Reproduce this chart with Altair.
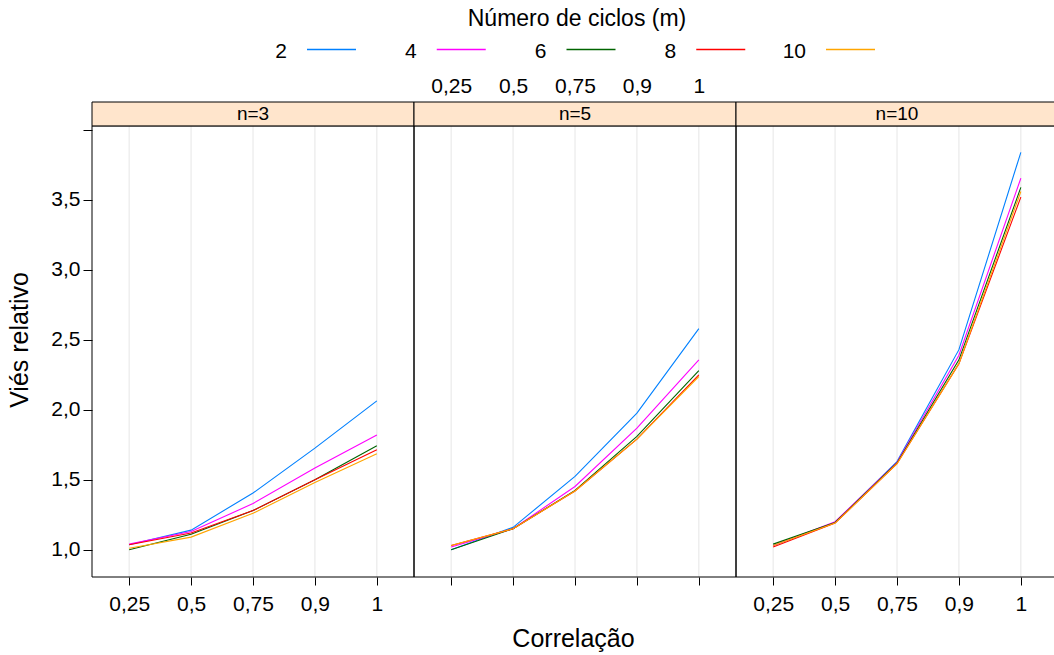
import altair as alt
import pandas as pd

# ---------------- data ----------------
corr_labels = ["0,25", "0,5", "0,75", "0,9", "1"]
ciclos = ["2", "4", "6", "8", "10"]
paineis = ["n=3", "n=5", "n=10"]
cores = ["#0080FF", "#FF00FF", "#006400", "#FF0000", "#FFA500"]

# n = 3
n3_m2 = [1.035, 1.14, 1.405, 1.726, 2.064]
n3_m4 = [1.04, 1.13, 1.33, 1.584, 1.82]
n3_m6 = [1.00, 1.11, 1.28, 1.50, 1.743]
n3_m8 = [1.035, 1.12, 1.28, 1.50, 1.714]
n3_m10 = [1.01, 1.09, 1.26, 1.48, 1.686]
# n = 5
n5_m2 = [1.00, 1.16, 1.524, 1.976, 2.58]
n5_m4 = [1.02, 1.15, 1.452, 1.869, 2.357]
n5_m6 = [1.00, 1.15, 1.424, 1.81, 2.28]
n5_m8 = [1.03, 1.15, 1.42, 1.79, 2.25]
n5_m10 = [1.03, 1.15, 1.42, 1.79, 2.238]
# n = 10
n10_m2 = [1.03, 1.195, 1.63, 2.43, 3.84]
n10_m4 = [1.03, 1.20, 1.625, 2.39, 3.655]
n10_m6 = [1.04, 1.195, 1.62, 2.357, 3.59]
n10_m8 = [1.02, 1.19, 1.615, 2.33, 3.52]
n10_m10 = [1.03, 1.19, 1.615, 2.33, 3.56]

series = {
    "n=3": [n3_m2, n3_m4, n3_m6, n3_m8, n3_m10],
    "n=5": [n5_m2, n5_m4, n5_m6, n5_m8, n5_m10],
    "n=10": [n10_m2, n10_m4, n10_m6, n10_m8, n10_m10],
}

rows = []
for p, painel in enumerate(paineis):
    for ciclo, vals in zip(ciclos, series[painel]):
        for pos, (c, v) in enumerate(zip(corr_labels, vals)):
            rows.append({"painel": painel, "p": p, "ciclo": ciclo, "corr": c, "pos": pos, "vies": v})
df = pd.DataFrame(rows)
grid_df = pd.DataFrame([{"p": p, "pos": k} for p in range(len(paineis)) for k in range(len(corr_labels))])
panel_df = pd.DataFrame({"painel": paineis, "p": list(range(len(paineis)))})

# ---------------- layout (facet-like positioning) ----------------
FONT = "Liberation Sans"
PADX = 0.6                       # outer padding of each panel, in category steps
PW = (len(corr_labels) - 1) + 2 * PADX   # panel width in steps
NP = len(paineis)
W, H = 962, 475
X_RANGE = 966                    # last panel runs a little past the canvas edge, as in the original
Y_MIN, Y_TOP, Y_MAX = 0.805, 4.029, 4.2
XPOS = f"datum.p * {PW} + {PADX} + datum.pos"

x_scale = alt.Scale(domain=[0, NP * PW], range=[0, X_RANGE], nice=False, zero=False)
y_scale = alt.Scale(domain=[Y_MIN, Y_MAX], nice=False, zero=False)
color_scale = alt.Scale(domain=ciclos, range=cores)

tick_vals = [p * PW + PADX + k for p in range(NP) for k in range(len(corr_labels))]
mid_vals = [1 * PW + PADX + k for k in range(len(corr_labels))]
lab_arr = "[" + ",".join(f"'{c}'" for c in corr_labels) + "]"
lab_expr = f"{lab_arr}[round(datum.value - {PADX} - {PW} * floor(datum.value / {PW}))]"

bottom_axis = alt.Axis(
    values=tick_vals,
    labelExpr=f"(datum.value > {PW} && datum.value < {2 * PW}) ? '' : {lab_expr}",
    orient="bottom", domain=False, grid=False, ticks=True, tickSize=8, tickColor="black",
    labelFontSize=21, labelFont=FONT, labelColor="black", labelPadding=8, labelAngle=0,
    labelOverlap=False, labelFlush=False,
    title="Correlação", titleFontSize=25, titleFont=FONT, titleFontWeight="normal",
    titleColor="black", titlePadding=12, titleX=481,
)
top_axis = alt.Axis(
    values=mid_vals, labelExpr=lab_expr,
    orient="top", domain=False, grid=False, ticks=False, tickSize=0,
    labelFontSize=21, labelFont=FONT, labelColor="black", labelPadding=6, labelAngle=0,
    labelOverlap=False, labelFlush=False, title=None,
)
y_axis = alt.Axis(
    values=[1.0, 1.5, 2.0, 2.5, 3.0, 3.5, 4.0],
    labelExpr="datum.value > 3.9 ? '' : replace(format(datum.value, '.1f'), '.', ',')",
    domain=False, grid=False, tickSize=9, tickColor="black",
    labelFontSize=21, labelFont=FONT, labelColor="black", labelPadding=3,
    title="Viés relativo", titleFontSize=25, titleFont=FONT, titleFontWeight="normal",
    titleColor="black", titlePadding=18,
)

# grid lines (carry the top axis, shown only over the middle panel)
grid = alt.Chart(grid_df).transform_calculate(xpos=XPOS).mark_rule(
    color="#E6E6E6", strokeWidth=1
).encode(
    x=alt.X("xpos:Q", scale=x_scale, axis=top_axis),
    y=alt.YDatum(Y_MIN, scale=y_scale, axis=y_axis),
    y2=alt.Y2Datum(Y_TOP),
)

lines = alt.Chart(df).transform_calculate(xpos=XPOS).mark_line(strokeWidth=1.1).encode(
    x=alt.X("xpos:Q", scale=x_scale, axis=bottom_axis),
    y=alt.Y("vies:Q", scale=y_scale, axis=y_axis),
    color=alt.Color("ciclo:N", scale=color_scale, legend=None),
    detail="painel:N",
    order=alt.Order("pos:Q"),
)

body = alt.Chart(panel_df).transform_calculate(
    x0=f"datum.p * {PW}", x1=f"(datum.p + 1) * {PW}"
).mark_rect(fill=None, stroke="black", strokeWidth=1).encode(
    x=alt.X("x0:Q", scale=x_scale, axis=bottom_axis), x2="x1:Q",
    y=alt.YDatum(Y_MIN, scale=y_scale, axis=y_axis), y2=alt.Y2Datum(Y_TOP),
)

strip = alt.Chart(panel_df).transform_calculate(
    x0=f"datum.p * {PW}", x1=f"(datum.p + 1) * {PW}"
).mark_rect(fill="#FFE5CC", stroke="black", strokeWidth=1).encode(
    x=alt.X("x0:Q", scale=x_scale, axis=bottom_axis), x2="x1:Q",
    y=alt.YDatum(Y_TOP, scale=y_scale, axis=y_axis), y2=alt.Y2Datum(Y_MAX),
)

strip_text = alt.Chart(panel_df).transform_calculate(
    xc=f"(datum.p + 0.5) * {PW}"
).mark_text(font=FONT, fontSize=19, color="black", baseline="middle").encode(
    x=alt.X("xc:Q", scale=x_scale, axis=bottom_axis),
    y=alt.YDatum((Y_TOP + Y_MAX) / 2, scale=y_scale, axis=y_axis),
    text="painel:N",
)

bottom_group = alt.layer(body, lines, strip, strip_text)
main = alt.layer(grid, bottom_group)

# ---------------- custom legend on top (label, then line sample) ----------------
leg_df = pd.DataFrame({"ciclo": ciclos})
lx = alt.X("ciclo:N", sort=ciclos,
           scale=alt.Scale(type="point", domain=ciclos, range=[195, 714], padding=0),
           axis=None)
leg_title = alt.Chart(pd.DataFrame({"t": ["Número de ciclos (m)"]})).mark_text(
    font=FONT, fontSize=23, color="black", baseline="middle"
).encode(x=alt.value(485), y=alt.value(-83), text="t:N")
leg_text = alt.Chart(leg_df).mark_text(
    align="right", baseline="middle", fontSize=21, font=FONT, color="black"
).encode(x=lx, y=alt.value(-50), text="ciclo:N")
leg_line = alt.Chart(leg_df).mark_rule(strokeWidth=1.3, xOffset=20, x2Offset=69).encode(
    x=lx, x2="ciclo:N", y=alt.value(-52.5),
    color=alt.Color("ciclo:N", scale=color_scale, legend=None),
)
legend = alt.layer(leg_title, leg_text, leg_line)

chart = alt.layer(main, legend).resolve_scale(x="independent").properties(
    width=W, height=H,
    autosize=alt.AutoSizeParams(type="none"),
    padding={"left": 92, "top": 102, "right": 0, "bottom": 78},
    background="white",
).configure(font=FONT).configure_view(stroke=None)

chart.save("out.html", embed_options={"renderer": "svg", "actions": False})
